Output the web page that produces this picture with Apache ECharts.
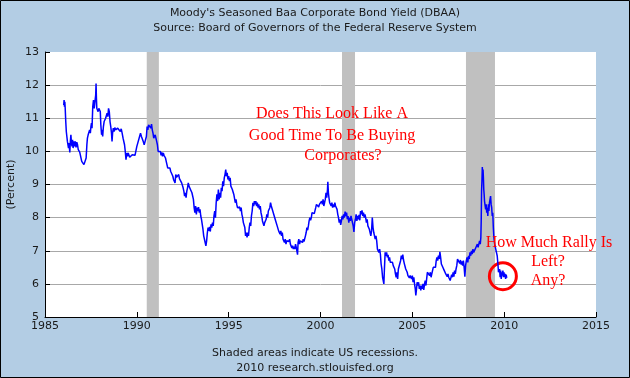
<!DOCTYPE html>
<html>
<head>
<meta charset="utf-8">
<script src="https://cdn.jsdelivr.net/npm/echarts@6/dist/echarts.min.js"></script>
<style>
html,body{margin:0;padding:0;background:#b3cde4;}
#chart{width:630px;height:378px;}
</style>
</head>
<body>
<div id="chart"></div>
<script>
// ---- Data: [decimal year, Baa yield %] ----
const baa1986_1989 = [
[1986.02,11.40],[1986.04,11.55],[1986.06,11.35],[1986.08,11.50],[1986.10,11.30],[1986.13,10.90],[1986.16,10.60],[1986.19,10.45],
[1986.22,10.30],[1986.25,10.35],[1986.28,10.10],[1986.31,10.25],[1986.35,9.97],[1986.38,10.30],[1986.41,10.50],[1986.44,10.25],
[1986.47,10.15],[1986.50,10.35],[1986.53,10.10],[1986.57,10.30],[1986.61,10.15],[1986.65,10.30],[1986.69,10.12],[1986.73,10.28],
[1986.77,10.20],[1986.81,10.05],[1986.85,10.10],[1986.89,9.98],[1986.93,10.00],[1986.97,9.95],[1987.00,9.70],[1987.04,9.65],
[1987.08,9.72],[1987.12,9.60],[1987.16,9.62],[1987.20,9.60],[1987.24,9.80],[1987.28,10.20],[1987.31,10.40],[1987.35,10.50],
[1987.39,10.45],[1987.43,10.65],[1987.47,10.55],[1987.50,10.75],[1987.53,10.85],[1987.56,10.70],[1987.60,11.35],[1987.64,11.55],
[1987.68,11.30],[1987.72,11.50],[1987.76,11.70],[1987.78,12.05],[1987.80,11.60],[1987.82,11.30],[1987.85,11.35],[1987.89,11.20],
[1987.93,11.30],[1987.97,11.25],[1988.01,11.20],[1988.04,10.80],[1988.08,10.50],[1988.11,10.65],[1988.14,10.45],[1988.18,10.75],
[1988.22,10.90],[1988.26,10.85],[1988.30,11.00],[1988.34,10.95],[1988.38,11.15],[1988.42,11.05],[1988.46,11.30],[1988.50,11.20],
[1988.54,10.90],[1988.58,10.75],[1988.62,10.55],[1988.65,10.30],[1988.68,10.55],[1988.72,10.70],[1988.76,10.60],[1988.80,10.72],
[1988.84,10.65],[1988.88,10.70],[1988.92,10.62],[1988.96,10.70],[1989.00,10.65],[1989.05,10.70],[1989.10,10.60],[1989.15,10.68],
[1989.20,10.55],[1989.25,10.40],[1989.29,10.45],[1989.33,10.20],[1989.37,10.00],[1989.41,9.75],[1989.45,9.95],[1989.49,9.85],
[1989.53,9.95],[1989.57,9.90],[1989.61,9.82],[1989.65,9.88],[1989.70,9.85],[1989.75,9.90],[1989.80,9.85],[1989.85,9.90],
[1989.90,9.88],[1989.95,9.92]
];
const baa1990_1994 = [
[1990.00,10.15],[1990.05,10.25],[1990.10,10.30],[1990.15,10.45],[1990.20,10.55],[1990.25,10.45],[1990.30,10.50],[1990.35,10.30],
[1990.40,10.20],[1990.44,10.28],[1990.48,10.22],[1990.52,10.45],[1990.56,10.75],[1990.60,10.65],[1990.64,10.80],[1990.68,10.75],
[1990.72,10.82],[1990.76,10.70],[1990.80,10.82],[1990.84,10.65],[1990.88,10.55],[1990.92,10.40],[1990.96,10.35],[1991.00,10.50],
[1991.04,10.40],[1991.08,10.30],[1991.12,10.20],[1991.16,10.00],[1991.20,10.05],[1991.24,9.95],[1991.28,10.00],[1991.32,9.88],
[1991.36,9.97],[1991.40,9.85],[1991.44,9.95],[1991.48,9.88],[1991.52,9.90],[1991.56,9.80],[1991.60,9.70],[1991.64,9.60],
[1991.68,9.50],[1991.72,9.55],[1991.76,9.45],[1991.80,9.50],[1991.84,9.40],[1991.88,9.45],[1991.92,9.35],[1991.96,9.25],
[1992.00,9.15],[1992.04,9.20],[1992.08,9.05],[1992.12,9.30],[1992.16,9.22],[1992.20,9.28],[1992.24,9.20],[1992.28,9.30],
[1992.32,9.18],[1992.36,9.22],[1992.40,9.12],[1992.44,9.05],[1992.48,9.10],[1992.52,8.90],[1992.56,8.80],[1992.60,8.65],
[1992.64,8.75],[1992.68,8.60],[1992.72,8.80],[1992.76,8.90],[1992.80,9.05],[1992.84,8.95],[1992.88,9.00],[1992.92,8.85],
[1992.96,8.80],[1993.00,8.75],[1993.04,8.80],[1993.08,8.55],[1993.12,8.30],[1993.16,8.15],[1993.20,8.35],[1993.24,8.10],
[1993.28,8.30],[1993.32,8.20],[1993.36,8.32],[1993.40,8.15],[1993.44,8.25],[1993.48,8.05],[1993.52,7.95],[1993.56,7.90],
[1993.60,7.65],[1993.64,7.45],[1993.68,7.40],[1993.72,7.25],[1993.76,7.15],[1993.80,7.30],[1993.84,7.55],[1993.88,7.70],
[1993.92,7.60],[1993.96,7.72],[1994.00,7.58],[1994.04,7.80],[1994.08,7.70],[1994.12,7.85],[1994.16,7.75],[1994.20,8.05],
[1994.24,8.20],[1994.28,8.00],[1994.32,8.45],[1994.36,8.70],[1994.40,8.50],[1994.44,8.85],[1994.48,8.55],[1994.52,8.75],
[1994.56,8.60],[1994.60,8.90],[1994.64,8.80],[1994.68,9.10],[1994.72,8.95],[1994.76,9.20],[1994.80,9.30],[1994.84,9.45],
[1994.88,9.25],[1994.92,9.35],[1994.96,9.15]
];
const baa1995_1999 = [
[1995.00,9.25],[1995.04,9.10],[1995.08,9.20],[1995.12,8.95],[1995.16,9.00],[1995.20,8.85],[1995.24,8.80],[1995.28,8.70],
[1995.32,8.75],[1995.36,8.45],[1995.40,8.55],[1995.44,8.40],[1995.48,8.30],[1995.52,8.35],[1995.56,8.25],[1995.60,8.32],
[1995.64,8.20],[1995.68,8.30],[1995.72,8.10],[1995.76,8.00],[1995.80,7.85],[1995.84,7.80],[1995.88,7.70],[1995.92,7.45],
[1995.96,7.55],[1996.00,7.40],[1996.04,7.55],[1996.08,7.45],[1996.12,7.70],[1996.16,7.85],[1996.20,7.75],[1996.24,8.05],
[1996.28,8.20],[1996.32,8.45],[1996.36,8.35],[1996.40,8.50],[1996.44,8.40],[1996.48,8.50],[1996.52,8.35],[1996.56,8.45],
[1996.60,8.30],[1996.64,8.40],[1996.68,8.25],[1996.72,8.35],[1996.76,8.15],[1996.80,8.05],[1996.84,7.90],[1996.88,7.95],
[1996.92,7.75],[1996.96,7.85],[1997.00,7.80],[1997.04,7.95],[1997.08,8.10],[1997.12,8.00],[1997.16,8.20],[1997.20,8.15],
[1997.24,8.30],[1997.28,8.45],[1997.32,8.35],[1997.36,8.40],[1997.40,8.20],[1997.44,8.25],[1997.48,8.05],[1997.52,8.10],
[1997.56,7.90],[1997.60,7.95],[1997.64,7.75],[1997.68,7.80],[1997.72,7.60],[1997.76,7.65],[1997.80,7.50],[1997.84,7.60],
[1997.88,7.45],[1997.92,7.55],[1997.96,7.35],[1998.00,7.40],[1998.04,7.25],[1998.08,7.35],[1998.12,7.20],[1998.16,7.30],
[1998.20,7.25],[1998.24,7.35],[1998.28,7.28],[1998.32,7.35],[1998.36,7.20],[1998.40,7.15],[1998.44,7.08],[1998.48,7.15],
[1998.52,7.05],[1998.56,7.12],[1998.60,7.05],[1998.64,7.20],[1998.68,7.10],[1998.72,7.15],[1998.75,6.88],[1998.78,7.25],
[1998.82,7.35],[1998.86,7.20],[1998.90,7.30],[1998.94,7.25],[1998.98,7.35],[1999.02,7.25],[1999.06,7.35],[1999.10,7.28],
[1999.14,7.32],[1999.18,7.45],[1999.22,7.55],[1999.26,7.70],[1999.30,7.62],[1999.34,7.75],[1999.38,7.90],[1999.42,8.00],
[1999.46,7.92],[1999.50,8.00],[1999.54,8.15],[1999.58,8.10],[1999.62,8.20],[1999.66,8.12],[1999.70,8.18],[1999.74,8.30],
[1999.78,8.40],[1999.82,8.35],[1999.86,8.45],[1999.90,8.32],[1999.94,8.40],[1999.98,8.45]
];
const baa2000_2004 = [
[2000.02,8.35],[2000.06,8.50],[2000.10,8.40],[2000.14,8.55],[2000.18,8.35],[2000.22,8.45],[2000.26,8.55],[2000.30,8.75],
[2000.34,8.60],[2000.38,8.85],[2000.40,9.08],[2000.43,8.75],[2000.46,8.60],[2000.50,8.45],[2000.54,8.40],[2000.58,8.35],
[2000.62,8.45],[2000.66,8.30],[2000.70,8.40],[2000.74,8.32],[2000.78,8.45],[2000.82,8.35],[2000.86,8.40],[2000.90,8.25],
[2000.94,8.10],[2000.98,8.00],[2001.02,7.85],[2001.06,7.95],[2001.10,7.78],[2001.14,7.90],[2001.18,8.05],[2001.22,7.95],
[2001.26,8.10],[2001.30,8.00],[2001.34,8.18],[2001.38,8.05],[2001.42,8.15],[2001.46,7.95],[2001.50,8.05],[2001.54,7.85],
[2001.58,8.00],[2001.62,7.90],[2001.66,8.05],[2001.70,7.95],[2001.74,8.00],[2001.78,7.75],[2001.82,7.57],[2001.86,7.85],
[2001.90,7.95],[2001.94,8.10],[2001.98,7.90],[2002.02,8.05],[2002.06,7.95],[2002.10,8.08],[2002.14,7.92],[2002.18,8.20],
[2002.22,8.10],[2002.26,8.22],[2002.30,8.05],[2002.34,8.15],[2002.38,8.00],[2002.42,8.10],[2002.46,8.00],[2002.50,7.85],
[2002.54,7.95],[2002.58,7.75],[2002.62,7.80],[2002.66,7.65],[2002.70,7.70],[2002.74,7.45],[2002.78,7.60],[2002.82,8.00],
[2002.86,7.70],[2002.90,7.55],[2002.94,7.45],[2002.98,7.35],[2003.02,7.45],[2003.06,7.30],[2003.10,7.05],[2003.14,7.00],
[2003.18,6.95],[2003.22,7.05],[2003.26,6.90],[2003.30,6.60],[2003.34,6.45],[2003.38,6.20],[2003.42,6.15],[2003.45,6.00],
[2003.48,6.45],[2003.52,6.95],[2003.56,6.85],[2003.60,6.95],[2003.64,6.80],[2003.68,6.88],[2003.72,6.70],[2003.76,6.80],
[2003.80,6.65],[2003.84,6.70],[2003.88,6.60],[2003.92,6.65],[2003.96,6.55],[2004.00,6.60],[2004.04,6.45],[2004.08,6.30],
[2004.12,6.20],[2004.16,6.35],[2004.20,6.15],[2004.24,6.45],[2004.28,6.40],[2004.32,6.50],[2004.36,6.70],[2004.40,6.85],
[2004.44,6.75],[2004.48,6.88],[2004.52,6.72],[2004.56,6.62],[2004.60,6.68],[2004.64,6.45],[2004.68,6.40],[2004.72,6.35],
[2004.76,6.25],[2004.80,6.30],[2004.84,6.18],[2004.88,6.25],[2004.92,6.20],[2004.96,6.15]
];
const baa2005_2010 = [
[2005.00,6.25],[2005.04,6.05],[2005.08,6.20],[2005.12,6.00],[2005.16,5.85],[2005.19,5.65],[2005.22,5.80],[2005.26,6.05],
[2005.30,5.95],[2005.34,6.05],[2005.38,5.85],[2005.42,5.95],[2005.46,5.80],[2005.50,5.95],[2005.54,5.85],[2005.58,6.00],
[2005.62,5.82],[2005.66,5.98],[2005.70,6.10],[2005.74,5.95],[2005.78,6.15],[2005.82,6.35],[2005.86,6.30],[2005.90,6.40],
[2005.94,6.25],[2005.98,6.35],[2006.02,6.20],[2006.06,6.30],[2006.10,6.40],[2006.14,6.50],[2006.18,6.45],[2006.22,6.55],
[2006.26,6.50],[2006.30,6.70],[2006.34,6.80],[2006.38,6.70],[2006.42,6.85],[2006.46,6.75],[2006.50,6.97],[2006.54,6.80],
[2006.58,6.60],[2006.62,6.65],[2006.66,6.50],[2006.70,6.55],[2006.74,6.40],[2006.78,6.45],[2006.82,6.30],[2006.86,6.35],
[2006.90,6.22],[2006.94,6.30],[2006.98,6.20],[2007.02,6.25],[2007.06,6.10],[2007.10,6.15],[2007.14,6.28],[2007.18,6.20],
[2007.22,6.35],[2007.26,6.22],[2007.30,6.40],[2007.34,6.30],[2007.38,6.45],[2007.42,6.55],[2007.46,6.75],[2007.50,6.70],
[2007.54,6.80],[2007.58,6.62],[2007.62,6.72],[2007.66,6.58],[2007.70,6.68],[2007.74,6.55],[2007.78,6.70],[2007.82,6.50],
[2007.86,6.22],[2007.90,6.55],[2007.94,6.70],[2007.98,6.80],[2008.02,6.65],[2008.06,6.85],[2008.10,6.75],[2008.14,6.95],
[2008.18,6.85],[2008.22,7.00],[2008.26,6.90],[2008.30,7.05],[2008.34,6.95],[2008.38,7.00],[2008.42,6.92],[2008.46,7.10],
[2008.50,7.05],[2008.54,7.20],[2008.58,7.10],[2008.62,7.15],[2008.66,7.30],[2008.70,7.20],[2008.73,7.40],[2008.75,7.90],
[2008.77,8.80],[2008.79,9.10],[2008.81,9.53],[2008.83,9.25],[2008.85,9.45],[2008.87,9.20],[2008.89,8.85],[2008.91,8.70],
[2008.93,8.50],[2008.96,8.45],[2008.99,8.25],[2009.02,8.40],[2009.05,8.15],[2009.08,8.30],[2009.11,8.05],[2009.14,8.40],
[2009.17,8.20],[2009.20,8.45],[2009.23,8.55],[2009.26,8.65],[2009.29,8.40],[2009.32,8.30],[2009.35,8.05],[2009.38,8.15],
[2009.41,7.70],[2009.44,7.40],[2009.47,7.25],[2009.50,7.15],[2009.54,7.05],[2009.58,7.00],[2009.62,6.85],[2009.66,6.60],
[2009.69,6.35],[2009.72,6.30],[2009.75,6.45],[2009.78,6.20],[2009.81,6.40],[2009.84,6.15],[2009.87,6.35],[2009.90,6.25],
[2009.93,6.40],[2009.96,6.20],[2009.99,6.35],[2010.02,6.20],[2010.05,6.30],[2010.08,6.15],[2010.11,6.28],[2010.14,6.18]
];
const recessionStart = [1990.54, 2001.17, 2007.92];
const recessionEnd   = [1991.20, 2001.88, 2009.50];
const xTicks = [1985, 1990, 1995, 2000, 2005, 2010, 2015];
const yTicks = [5, 6, 7, 8, 9, 10, 11, 12, 13];
const circledPoint = [2009.93, 6.23];

const titleLines = ["Moody's Seasoned Baa Corporate Bond Yield (DBAA)", "Source: Board of Governors of the Federal Reserve System"];
const footLines = ["Shaded areas indicate US recessions.", "2010 research.stlouisfed.org"];
const note1 = ["Does This Look Like A", "Good Time To Be Buying", "Corporates?"];
const note2 = ["How Much Rally Is", "Left?", "Any?"];

const series = [].concat(baa1986_1989, baa1990_1994, baa1995_1999, baa2000_2004, baa2005_2010);

const chart = echarts.init(document.getElementById('chart'), null, {renderer: 'canvas'});
const sans = '"DejaVu Sans", Verdana, sans-serif';
const serif = '"Liberation Serif", "Times New Roman", serif';
const txtColor = '#1a1a1a';

const noteText = (t, x, y) => ({
  type: 'text', z: 100,
  style: {text: t, x: x, y: y, textAlign: 'center', textVerticalAlign: 'middle',
          font: '16px ' + serif, fill: '#ff0000'}
});

chart.setOption({
  animation: false,
  backgroundColor: '#b3cde4',
  title: [
    {text: titleLines[0], left: 'center', top: 3, textStyle: {fontFamily: sans, fontSize: 11, fontWeight: 'normal', color: txtColor}},
    {text: titleLines[1], left: 'center', top: 18, textStyle: {fontFamily: sans, fontSize: 11, fontWeight: 'normal', color: txtColor}},
    {text: footLines[0], left: 'center', top: 343, textStyle: {fontFamily: sans, fontSize: 11, fontWeight: 'normal', color: txtColor}},
    {text: footLines[1], left: 'center', top: 358, textStyle: {fontFamily: sans, fontSize: 11, fontWeight: 'normal', color: txtColor}}
  ],
  grid: {left: 45, right: 34, top: 52, bottom: 61, show: true, backgroundColor: '#ffffff', borderWidth: 0,
         containLabel: false, outerBoundsMode: 'none'},
  xAxis: {
    type: 'value', min: xTicks[0], max: xTicks[xTicks.length - 1], interval: 5,
    axisLine: {show: true, lineStyle: {color: '#000', width: 1}},
    axisTick: {show: true, inside: true, length: 5, lineStyle: {color: '#000'}},
    axisLabel: {fontFamily: sans, fontSize: 11, color: txtColor, margin: 4, formatter: v => String(v)},
    splitLine: {show: false}
  },
  yAxis: {
    type: 'value', min: yTicks[0], max: yTicks[yTicks.length - 1], interval: 1,
    name: '(Percent)', nameLocation: 'middle', nameRotate: 90, nameGap: 28, nameMoveOverlap: false,
    nameTextStyle: {fontFamily: sans, fontSize: 11, color: txtColor},
    axisLine: {show: true, lineStyle: {color: '#000', width: 1}},
    axisTick: {show: true, inside: true, length: 5, lineStyle: {color: '#000'}},
    axisLabel: {fontFamily: sans, fontSize: 11, color: txtColor, margin: 6},
    splitLine: {show: true, showMinLine: false, showMaxLine: false, lineStyle: {color: '#a8a8a8', width: 1}}
  },
  series: [
    {
      type: 'line', z: 1, data: [], silent: true,
      markArea: {
        silent: true,
        itemStyle: {color: '#c0c0c0'},
        data: recessionStart.map((s, i) => [{xAxis: s}, {xAxis: recessionEnd[i]}])
      }
    },
    {
      type: 'line', z: 5, data: series, showSymbol: false, symbol: 'none',
      lineStyle: {color: '#0000ff', width: 1.5},
      markPoint: {
        silent: true, symbol: 'circle', symbolSize: 27,
        itemStyle: {color: 'rgba(0,0,0,0)', borderColor: '#ff0000', borderWidth: 3},
        label: {show: false},
        data: [{coord: circledPoint}]
      }
    }
  ],
  graphic: [
    noteText(note1[0], 332, 114),
    noteText(note1[1], 332, 136),
    noteText(note1[2], 343, 156),
    noteText(note2[0], 549, 243),
    noteText(note2[1], 548, 262),
    noteText(note2[2], 548, 281),
    {type: 'rect', z: 200, silent: true, shape: {x: 0.5, y: 0.5, width: 629, height: 377},
     style: {fill: 'none', stroke: '#000', lineWidth: 1}}
  ]
});
</script>
</body>
</html>
